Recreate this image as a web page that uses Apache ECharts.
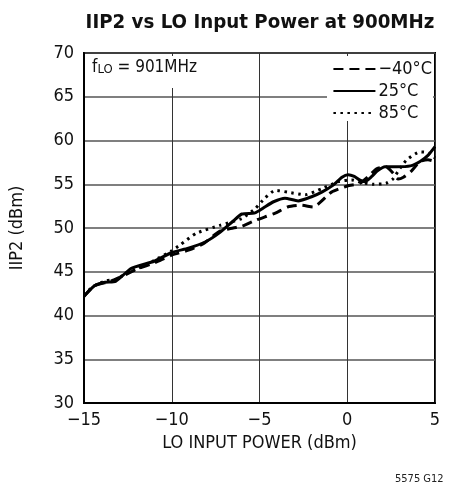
<!DOCTYPE html>
<html>
<head>
<meta charset="utf-8">
<script src="https://cdn.jsdelivr.net/npm/echarts@6/dist/echarts.min.js"></script>
<style>html,body{margin:0;padding:0;background:#fff}#c{width:453px;height:487px}</style>
</head>
<body>
<div id="c"></div>
<script>
// ---- data ----
const xTicks = [-15, -10, -5, 0, 5];
const yTicks = [30, 35, 40, 45, 50, 55, 60, 65, 70];
const seriesNames = ['\u221240\u00b0C', '25\u00b0C', '85\u00b0C'];

const powerM40 = [-15, -14.4, -13.5, -12.8, -12, -11, -10, -9, -8.2, -7.3, -6.5, -6, -5.2, -4.1, -3.4, -2.6, -1.95, -0.9, 0, 0.7, 1.2, 1.7, 2.2, 2.6, 2.9, 3.2, 3.6, 4.15, 4.6, 5];
const iip2M40  = [42.2, 43.4, 43.9, 44.5, 45.3, 46.0, 46.9, 47.5, 48.2, 49.6, 50.0, 50.2, 50.9, 51.7, 52.4, 52.6, 52.4, 54.1, 54.8, 55.1, 55.9, 56.8, 57.0, 56.3, 55.6, 55.8, 56.4, 57.6, 57.8, 57.6];

const power25 = [-15, -14.4, -13.8, -13.2, -12.3, -11, -10, -9.05, -8.1, -7.25, -6.5, -6, -5.3, -5, -4.7, -4.2, -3.55, -2.8, -2, -1.45, -0.8, -0.3, 0.05, 0.4, 0.7, 1.0, 1.4, 1.7, 2.15, 2.8, 3.6, 4.15, 4.6, 5];
const iip225  = [42.2, 43.4, 43.8, 43.9, 45.4, 46.2, 47.2, 47.7, 48.4, 49.5, 50.8, 51.6, 51.7, 52.0, 52.4, 53.0, 53.4, 53.1, 53.6, 54.1, 54.9, 55.8, 56.1, 55.9, 55.5, 55.3, 55.9, 56.5, 57.0, 57.0, 57.1, 57.6, 58.3, 59.3];

const power85 = [-15, -14.5, -13.7, -13.2, -12.6, -12, -11, -10, -9.5, -8.6, -7.25, -6, -5.25, -4.7, -4.1, -3.4, -2.4, -1.45, -0.5, 0.25, 0.8, 1.5, 2.2, 2.6, 3.0, 3.4, 4.15, 4.6, 5];
const iip285  = [42.3, 43.3, 44.0, 44.1, 44.8, 45.3, 46.3, 47.4, 48.1, 49.4, 50.3, 51.1, 52.2, 53.4, 54.3, 54.1, 53.8, 54.5, 55.3, 55.5, 55.2, 55.0, 55.1, 55.6, 56.8, 57.8, 58.7, 58.6, 58.0];

const zip = (xs, ys) => xs.map((x, i) => [x, ys[i]]);

const FONT = "'Liberation Sans Narrow', 'DejaVu Sans Condensed', 'Roboto Condensed', Roboto, sans-serif";

const chart = echarts.init(document.getElementById('c'), null, {renderer: 'canvas'});
chart.setOption({
  animation: false,
  backgroundColor: '#fff',
  title: {
    text: 'IIP2 vs LO Input Power at 900MHz',
    left: 255, top: 8, textAlign: 'center',
    textStyle: {fontFamily: FONT, fontWeight: 'bold', fontSize: 20.3, color: '#111'}
  },
  grid: {left: 84, right: 18, top: 53, bottom: 84, show: true, borderColor: '#000', borderWidth: 2, containLabel: false},
  legend: {
    orient: 'vertical', right: 20, top: 54,
    padding: [6, 1, 3, 6], itemGap: 4, itemWidth: 42, itemHeight: 14,
    itemStyle: {opacity: 0, borderWidth: 0},
    textStyle: {fontFamily: FONT, fontSize: 18, color: '#111', padding: [0, 0, 0, -2]},
    data: seriesNames
  },
  xAxis: {
    type: 'value', min: -15, max: 5, interval: 5,
    name: 'LO INPUT POWER (dBm)', nameLocation: 'middle', nameGap: 30,
    nameTextStyle: {fontFamily: FONT, fontSize: 18, color: '#111'},
    axisLine: {show: true, onZero: false, lineStyle: {color: '#000', width: 2}},
    axisTick: {show: false},
    axisLabel: {fontFamily: FONT, fontSize: 18, color: '#111', margin: 8,
      formatter: v => xTicks.includes(v) ? String(v).replace('-', '\u2212') : ''},
    splitLine: {show: true, lineStyle: {color: '#333', width: 1}}
  },
  yAxis: {
    type: 'value', min: 30, max: 70, interval: 5,
    name: 'IIP2 (dBm)', nameLocation: 'middle', nameGap: 58, nameRotate: 90,
    nameTextStyle: {fontFamily: FONT, fontSize: 18, color: '#111'},
    axisLine: {show: true, onZero: false, lineStyle: {color: '#000', width: 2}},
    axisTick: {show: false},
    axisLabel: {fontFamily: FONT, fontSize: 18, color: '#111', margin: 10,
      formatter: v => yTicks.includes(v) ? String(v) : ''},
    splitLine: {show: true, lineStyle: {color: '#555', width: 1.5}}
  },
  graphic: [
    {type: 'rect', z: 1, shape: {x: 86, y: 56, width: 118, height: 32}, style: {fill: '#fff'}},
    {type: 'rect', z: 1, shape: {x: 327, y: 56, width: 106, height: 65}, style: {fill: '#fff'}},
    {type: 'text', z: 5, left: 92, top: 59,
      style: {
        text: '{f|f}{s|LO}{n| = 901MHz}',
        rich: {
          f: {fontFamily: FONT, fontSize: 17, fill: '#111', verticalAlign: 'bottom'},
          s: {fontFamily: FONT, fontSize: 13, fill: '#111', padding: [6, 0, 0, 0], verticalAlign: 'bottom'},
          n: {fontFamily: FONT, fontSize: 17, fill: '#111', verticalAlign: 'bottom'}
        }
      }},
    {type: 'text', z: 5, left: 395, top: 474,
      style: {text: '5575 G12', fontFamily: FONT, fontSize: 11, fill: '#222'}}
  ],
  series: [
    {name: seriesNames[0], type: 'line', data: zip(powerM40, iip2M40), symbol: 'none', smooth: 0.2,
      lineStyle: {color: '#000', width: 3, type: [10, 6]}, itemStyle: {color: '#000'}},
    {name: seriesNames[1], type: 'line', data: zip(power25, iip225), symbol: 'none', smooth: 0.2,
      lineStyle: {color: '#000', width: 3, type: 'solid'}, itemStyle: {color: '#000'}},
    {name: seriesNames[2], type: 'line', data: zip(power85, iip285), symbol: 'none', smooth: 0.2,
      lineStyle: {color: '#000', width: 3, type: [2.5, 4.5]}, itemStyle: {color: '#000'}}
  ]
});
</script>
</body>
</html>
